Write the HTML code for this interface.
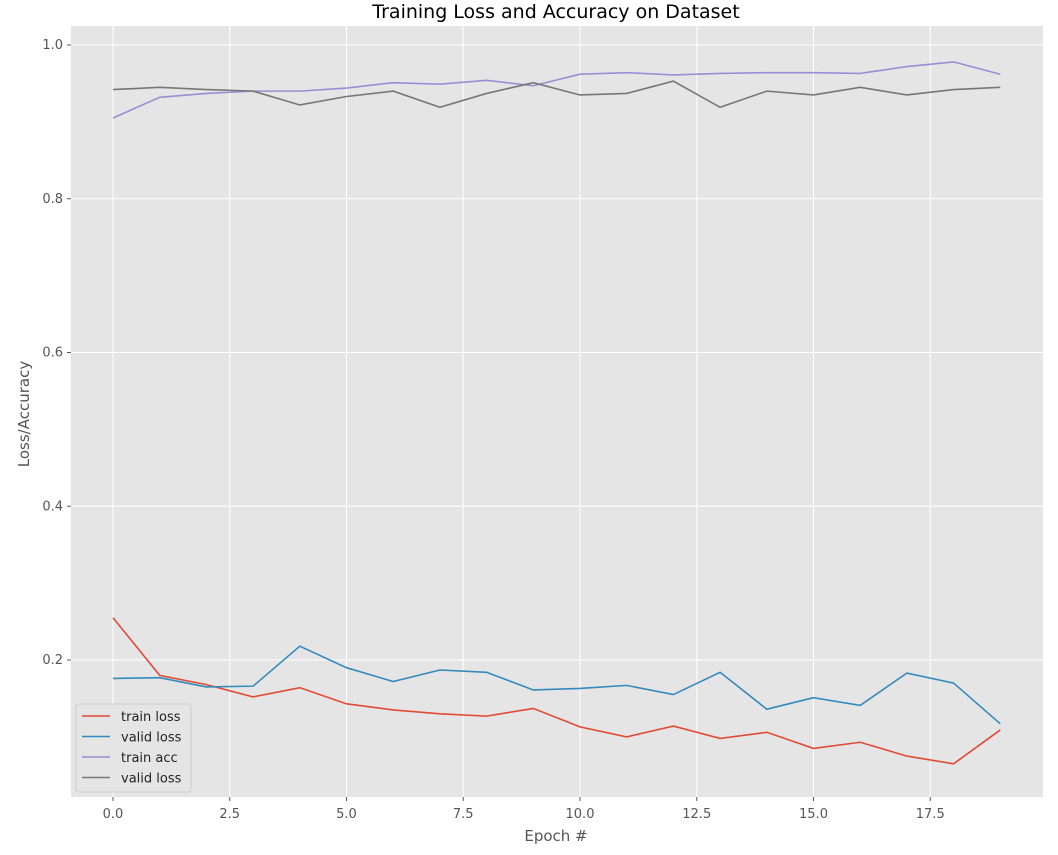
<!DOCTYPE html>
<html><head><meta charset="utf-8">
<style>
body{margin:0;background:#fff;font-family:"Liberation Sans","DejaVu Sans",sans-serif;}
svg text{font-family:"DejaVu Sans","Liberation Sans",sans-serif;}
</style></head>
<body>
<svg id="chart" width="1058" height="850" xmlns="http://www.w3.org/2000/svg">
<rect x="0" y="0" width="1058" height="850" fill="#fff"/>
<text x="556" y="18" font-size="19" text-anchor="middle" fill="#000">Training Loss and Accuracy on Dataset</text>
<rect x="71" y="26" width="972" height="771" fill="#e5e5e5"/>
<g id="grid"></g><g id="ticks"></g><g id="series"></g>
<text x="556" y="841" font-size="15" text-anchor="middle" fill="#555">Epoch #</text>
<text transform="translate(29,414) rotate(-90)" font-size="15" text-anchor="middle" fill="#555">Loss/Accuracy</text>
<g id="legend"></g>
</svg>
<script>
const epochs=[0,1,2,3,4,5,6,7,8,9,10,11,12,13,14,15,16,17,18,19];
const trainLoss=[0.255,0.18,0.168,0.152,0.164,0.143,0.135,0.13,0.127,0.137,0.113,0.1,0.114,0.098,0.106,0.085,0.093,0.075,0.065,0.109];
const validLoss=[0.176,0.177,0.165,0.166,0.218,0.19,0.172,0.187,0.184,0.161,0.163,0.167,0.155,0.184,0.136,0.151,0.141,0.183,0.17,0.117];
const trainAcc=[0.905,0.932,0.937,0.94,0.94,0.944,0.951,0.949,0.954,0.947,0.962,0.964,0.961,0.963,0.964,0.964,0.963,0.972,0.978,0.962];
const validAcc=[0.942,0.945,0.942,0.94,0.922,0.933,0.94,0.919,0.937,0.951,0.935,0.937,0.953,0.919,0.94,0.935,0.945,0.935,0.942,0.945];
const xTicks=[0,2.5,5,7.5,10,12.5,15,17.5];
const xTickLabels=["0.0","2.5","5.0","7.5","10.0","12.5","15.0","17.5"];
const yTicks=[0.2,0.4,0.6,0.8,1.0];
const yTickLabels=["0.2","0.4","0.6","0.8","1.0"];
const seriesNames=["train loss","valid loss","train acc","valid loss"];

const NS="http://www.w3.org/2000/svg";
const X=v=>113+v*46.7;
const Y=v=>660-(v-0.2)*768.75;
function mk(tag,attrs,parent){const e=document.createElementNS(NS,tag);for(const k in attrs)e.setAttribute(k,attrs[k]);parent.appendChild(e);return e;}
const grid=document.getElementById('grid'),ticks=document.getElementById('ticks'),ser=document.getElementById('series'),leg=document.getElementById('legend');
xTicks.forEach((t,i)=>{
  const l=mk('line',{x1:X(t),x2:X(t),y1:26,y2:797,stroke:'#fff','stroke-width':1},grid);
  
  
  const tk=mk('line',{x1:X(t),x2:X(t),y1:797,y2:801,stroke:'#555'},ticks);
  
  
  const tx=mk('text',{x:X(t),y:818,'font-size':13,'text-anchor':'middle',fill:'#555'},ticks);
  tx.textContent=xTickLabels[i];
  
  
});
yTicks.forEach((t,i)=>{
  const l=mk('line',{x1:71,x2:1043,y1:Y(t),y2:Y(t),stroke:'#fff','stroke-width':1},grid);
  
  
  const tk=mk('line',{x1:67,x2:71,y1:Y(t),y2:Y(t),stroke:'#555'},ticks);
  
  
  const tx=mk('text',{x:63,y:Y(t)+4,'font-size':13,'text-anchor':'end',fill:'#555'},ticks);
  tx.textContent=yTickLabels[i];
  
  
});
const all=[trainLoss,validLoss,trainAcc,validAcc];
const colors=["#e24a33","#348abd","#988ed5","#777777"];
const sNames=["train-loss-line","valid-loss-line","train-acc-line","valid-acc-line"];
all.forEach((d,s)=>{
  const p=mk('polyline',{points:epochs.map((e,i)=>X(e)+','+Y(d[i])).join(' '),fill:'none',stroke:colors[s],'stroke-width':1.6},ser);
  
  
});
const box=mk('rect',{x:76,y:704,width:115,height:88,fill:'#e5e5e5',stroke:'#ccc',rx:3},leg);


seriesNames.forEach((n,i)=>{
  const y=716+i*20.5;
  const l=mk('line',{x1:82,x2:110,y1:y,y2:y,stroke:colors[i],'stroke-width':1.6},leg);
  
  
  const t=mk('text',{x:121,y:y+5,'font-size':13,fill:'#222'},leg);
  t.textContent=n;
  
  
});
</script>
</body></html>
